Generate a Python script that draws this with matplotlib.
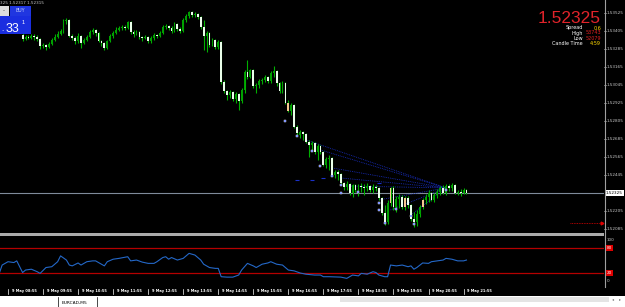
import matplotlib
matplotlib.use("Agg")
import numpy as np
import matplotlib.pyplot as plt
from matplotlib.patches import Rectangle
from matplotlib.lines import Line2D
from matplotlib.transforms import blended_transform_factory

W, H = 625, 307

# EURCAD M5, bar 0 = 9 May 08:55
first_bar = 5
opens = [
    1.53379, 1.53352, 1.53365, 1.53359, 1.53372, 1.53365, 1.53352, 1.53305, 1.53312, 1.53299,
    1.53319, 1.53345, 1.53365, 1.53385, 1.53405, 1.53472, 1.53479, 1.53372, 1.53359, 1.53339,
    1.53372, 1.53325, 1.53345, 1.53365, 1.53399, 1.53412, 1.53392, 1.53339, 1.53325, 1.53292,
    1.53339, 1.53372, 1.53392, 1.53412, 1.53425, 1.53432, 1.53425, 1.53465, 1.53399, 1.53385,
    1.53399, 1.53365, 1.53359, 1.53365, 1.53339, 1.53359, 1.53379, 1.53372, 1.53392, 1.53432,
    1.53439, 1.53425, 1.53405, 1.53452, 1.53419, 1.53405, 1.53479, 1.53505, 1.53532, 1.53512,
    1.53519, 1.53499, 1.53432, 1.53372, 1.53392, 1.53312, 1.53345, 1.53299, 1.53332, 1.53065,
    1.53005, 1.52979, 1.52999, 1.52952, 1.52985, 1.52939, 1.53012, 1.53132, 1.53099, 1.53145,
    1.53039, 1.53045, 1.53072, 1.53079, 1.53099, 1.53072, 1.53125, 1.53139, 1.53059, 1.53005,
    1.53059, 1.52925, 1.52872, 1.52912, 1.52765, 1.52712, 1.52732, 1.52719, 1.52665, 1.52645,
    1.52659, 1.52599, 1.52639, 1.52599, 1.52512, 1.52552, 1.52559, 1.52445, 1.52465, 1.52452,
    1.52392, 1.52365, 1.52385, 1.52325, 1.52379, 1.52345, 1.52372, 1.52365, 1.52359, 1.52372,
    1.52345, 1.52365, 1.52359, 1.52292, 1.52192, 1.52132, 1.52259, 1.52359, 1.52232, 1.52285,
    1.52299, 1.52232, 1.52292, 1.52245, 1.52152, 1.52132, 1.52185, 1.52232, 1.52279, 1.52299,
    1.52325, 1.52279, 1.52312, 1.52332, 1.52359, 1.52325, 1.52372, 1.52359, 1.52379, 1.52325,
    1.52332, 1.52325, 1.52345,
]
closes = [
    1.53352, 1.53365, 1.53359, 1.53372, 1.53365, 1.53352, 1.53305, 1.53312, 1.53299, 1.53319,
    1.53345, 1.53365, 1.53385, 1.53405, 1.53472, 1.53479, 1.53372, 1.53359, 1.53339, 1.53372,
    1.53325, 1.53345, 1.53365, 1.53399, 1.53412, 1.53392, 1.53339, 1.53325, 1.53292, 1.53339,
    1.53372, 1.53392, 1.53412, 1.53425, 1.53432, 1.53425, 1.53465, 1.53399, 1.53385, 1.53399,
    1.53365, 1.53359, 1.53365, 1.53339, 1.53359, 1.53379, 1.53372, 1.53392, 1.53432, 1.53439,
    1.53425, 1.53405, 1.53452, 1.53419, 1.53405, 1.53479, 1.53505, 1.53532, 1.53512, 1.53519,
    1.53499, 1.53432, 1.53372, 1.53392, 1.53312, 1.53345, 1.53299, 1.53332, 1.53065, 1.53005,
    1.52979, 1.52999, 1.52952, 1.52985, 1.52939, 1.53012, 1.53132, 1.53099, 1.53145, 1.53039,
    1.53045, 1.53072, 1.53079, 1.53099, 1.53072, 1.53125, 1.53139, 1.53059, 1.53005, 1.53059,
    1.52925, 1.52872, 1.52912, 1.52765, 1.52725, 1.52732, 1.52719, 1.52665, 1.52645, 1.52659,
    1.52599, 1.52639, 1.52599, 1.52512, 1.52552, 1.52559, 1.52445, 1.52465, 1.52452, 1.52392,
    1.52365, 1.52385, 1.52325, 1.52379, 1.52345, 1.52372, 1.52365, 1.52359, 1.52372, 1.52345,
    1.52365, 1.52359, 1.52292, 1.52192, 1.52132, 1.52259, 1.52359, 1.52232, 1.52285, 1.52299,
    1.52232, 1.52292, 1.52245, 1.52152, 1.52132, 1.52185, 1.52232, 1.52279, 1.52299, 1.52325,
    1.52279, 1.52312, 1.52332, 1.52359, 1.52325, 1.52372, 1.52359, 1.52379, 1.52325, 1.52332,
    1.52325, 1.52345, 1.52325,
]
highs = [
    1.53392, 1.53379, 1.53379, 1.53385, 1.53385, 1.53379, 1.53359, 1.53325, 1.53319, 1.53332,
    1.53359, 1.53385, 1.53405, 1.53419, 1.53485, 1.53492, 1.53485, 1.53385, 1.53372, 1.53392,
    1.53379, 1.53359, 1.53379, 1.53412, 1.53425, 1.53419, 1.53399, 1.53345, 1.53332, 1.53345,
    1.53385, 1.53405, 1.53432, 1.53439, 1.53445, 1.53445, 1.53472, 1.53472, 1.53412, 1.53412,
    1.53405, 1.53372, 1.53379, 1.53372, 1.53372, 1.53392, 1.53385, 1.53405, 1.53445, 1.53452,
    1.53445, 1.53439, 1.53465, 1.53459, 1.53432, 1.53492, 1.53519, 1.53539, 1.53539, 1.53532,
    1.53525, 1.53505, 1.53479, 1.53405, 1.53399, 1.53359, 1.53352, 1.53345, 1.53339, 1.53079,
    1.53012, 1.53012, 1.53005, 1.52999, 1.52992, 1.53025, 1.53145, 1.53212, 1.53152, 1.53152,
    1.53059, 1.53085, 1.53092, 1.53112, 1.53105, 1.53139, 1.53172, 1.53145, 1.53065, 1.53072,
    1.53065, 1.52945, 1.52925, 1.52919, 1.52779, 1.52745, 1.52739, 1.52725, 1.52679, 1.52672,
    1.52665, 1.52652, 1.52645, 1.52605, 1.52565, 1.52579, 1.52565, 1.52479, 1.52479, 1.52459,
    1.52399, 1.52405, 1.52392, 1.52385, 1.52385, 1.52385, 1.52392, 1.52385, 1.52392, 1.52379,
    1.52385, 1.52379, 1.52365, 1.52299, 1.52245, 1.52279, 1.52365, 1.52372, 1.52305, 1.52319,
    1.52312, 1.52305, 1.52305, 1.52252, 1.52199, 1.52212, 1.52245, 1.52292, 1.52319, 1.52345,
    1.52332, 1.52325, 1.52352, 1.52372, 1.52379, 1.52385, 1.52385, 1.52392, 1.52385, 1.52345,
    1.52352, 1.52359, 1.52352,
]
lows = [
    1.53339, 1.53345, 1.53352, 1.53352, 1.53345, 1.53339, 1.53285, 1.53292, 1.53279, 1.53292,
    1.53312, 1.53339, 1.53359, 1.53379, 1.53392, 1.53452, 1.53365, 1.53345, 1.53319, 1.53325,
    1.53292, 1.53319, 1.53339, 1.53359, 1.53385, 1.53372, 1.53332, 1.53305, 1.53279, 1.53285,
    1.53332, 1.53359, 1.53385, 1.53405, 1.53412, 1.53412, 1.53419, 1.53385, 1.53365, 1.53379,
    1.53352, 1.53339, 1.53352, 1.53325, 1.53325, 1.53345, 1.53359, 1.53365, 1.53385, 1.53419,
    1.53412, 1.53392, 1.53399, 1.53405, 1.53392, 1.53399, 1.53465, 1.53492, 1.53499, 1.53499,
    1.53485, 1.53419, 1.53279, 1.53265, 1.53299, 1.53305, 1.53285, 1.53285, 1.53052, 1.52992,
    1.52945, 1.52959, 1.52939, 1.52925, 1.52879, 1.52925, 1.52992, 1.53085, 1.53092, 1.53025,
    1.52992, 1.53025, 1.53052, 1.53065, 1.53059, 1.53059, 1.53099, 1.53039, 1.52992, 1.52992,
    1.52919, 1.52865, 1.52845, 1.52759, 1.52712, 1.52692, 1.52679, 1.52659, 1.52565, 1.52612,
    1.52585, 1.52545, 1.52585, 1.52505, 1.52492, 1.52479, 1.52439, 1.52425, 1.52412, 1.52379,
    1.52345, 1.52345, 1.52312, 1.52299, 1.52332, 1.52305, 1.52332, 1.52312, 1.52339, 1.52332,
    1.52325, 1.52339, 1.52279, 1.52179, 1.52112, 1.52119, 1.52239, 1.52212, 1.52199, 1.52225,
    1.52219, 1.52212, 1.52225, 1.52139, 1.52099, 1.52105, 1.52165, 1.52219, 1.52252, 1.52265,
    1.52272, 1.52265, 1.52292, 1.52312, 1.52319, 1.52312, 1.52339, 1.52339, 1.52319, 1.52312,
    1.52305, 1.52319, 1.52319,
]
peach_bars = [96, 131, 136, 142]

bid = 1.52325
alert_level = 1.52127

# arrows of the signal indicator
signal_bars = [95, 99, 104, 107, 111, 114, 114, 120, 127, 127, 129, 133, 138, 139, 150]
signal_prices = [1.52805, 1.52705, 1.52605, 1.52505, 1.52439, 1.52379, 1.52325, 1.52332,
                 1.52259, 1.52212, 1.52125, 1.52219, 1.52172, 1.52119, 1.52345]

# dotted trend lines of the same indicator
fan_bars = [102, 107, 111, 114, 115, 127, 131, 138]
fan_prices = [1.52679, 1.52612, 1.52492, 1.52425, 1.52372, 1.52279, 1.52212, 1.52179]
fan_end_bar = 150
fan_end_price = 1.52359
dash_bars = [99, 104, 108, 127]
dash_prices = [1.52412, 1.52412, 1.52425, 1.52392]

# oscillator sub window
ind_bars = [-3, -2, 0, 2, 3, 4, 5, 6, 8, 10, 11, 12, 13, 15, 17, 18, 20, 21, 22, 24, 25, 27, 29,
            30, 32, 33, 34, 36, 38, 41, 42, 44, 46, 48, 50, 51, 53, 54, 55, 56, 58, 60, 61, 62,
            64, 66, 67, 69, 71, 72, 73, 75, 77, 79, 80, 82, 84, 85, 87, 89, 90, 92, 94, 96, 98,
            100, 102, 105, 107, 108, 110, 114, 116, 117, 118, 120, 121, 123, 125, 126, 127, 129,
            130, 131, 133, 135, 137, 138, 139, 140, 142, 144, 145, 147, 149, 150, 152, 153, 154,
            156, 157]
ind_vals = [19, 39, 47, 45, 49, 35, 21, 27, 29, 23, 19, 26, 33, 35, 47, 61, 51, 39, 37, 44, 39, 47,
            49, 49, 41, 37, 47, 53, 55, 59, 49, 51, 46, 43, 43, 47, 57, 59, 53, 57, 51, 55, 61, 67,
            63, 51, 41, 33, 31, 31, 11, 10, 10, 15, 27, 43, 37, 33, 41, 44, 47, 41, 39, 27, 25,
            20, 17, 15, 15, 11, 11, 10, 7, 11, 15, 13, 19, 17, 23, 21, 15, 11,
            11, 39, 37, 39, 35, 37, 29, 33, 44, 43, 47, 49, 51, 55, 53, 51, 49,
            49, 51]
ind_levels = [80, 20]

price_ticks = [1.53525, 1.53405, 1.53285, 1.53165, 1.53045, 1.52925, 1.52805, 1.52685,
               1.52565, 1.52445, 1.52205, 1.52085]
time_bars = list(range(0, 157, 12))
time_labels = ["9 May %02d:55" % h for h in range(8, 22)]

info_labels = ["Spread", "High", "Low", "Candle Time"]
info_values = ["0.6", "53743", "52079", "4:59"]
info_colors = ["#ffd800", "#e02020", "#e02020", "#ffd800"]


def box(x0, y0, x1, y1):
    return [x0 / W, 1 - y1 / H, (x1 - x0) / W, (y1 - y0) / H]


def prect(x0, y0, x1, y1, **kw):
    fig.add_artist(Rectangle((x0 / W, 1 - y1 / H), (x1 - x0) / W, (y1 - y0) / H,
                             transform=fig.transFigure, lw=0, **kw))


def fy(y):
    return 1 - y / H


fig = plt.figure(figsize=(W / 100, H / 100), dpi=100, facecolor="black")

xlim = (-2.74, 204.1)
ax = fig.add_axes(box(0, 0, 604, 233))
ax.set_xlim(*xlim)
ax.set_ylim(1.520583, 1.536117)
ax.axis("off")

bars = np.arange(first_bar, first_bar + len(closes))
o, c = np.array(opens), np.array(closes)
h, l = np.array(highs), np.array(lows)
body_col = np.where(c > o, "#00a000", "#eaffea")
for b in peach_bars:
    body_col[b - first_bar] = "#f6c890"

ax.axhline(bid, color="#7f8b9a", lw=0.8, zorder=1)
for b0, p0 in zip(fan_bars, fan_prices):
    ax.plot([b0, fan_end_bar], [p0, fan_end_price], color="#1a30c8", lw=0.6,
            ls=(0, (1, 1.2)), zorder=1.5)
ax.scatter(dash_bars, dash_prices, marker="_", s=6, color="#1a30c8", lw=0.8, zorder=1.5)
ax.vlines(bars, l, h, color="#00b000", lw=0.8, zorder=2)
ax.bar(bars, np.maximum(np.abs(c - o), 0.00002), bottom=np.minimum(o, c), width=0.62,
       color=body_col, lw=0, zorder=3)
ax.scatter(signal_bars, signal_prices, marker="s", s=4, c="#3c5cff", edgecolors="white",
           linewidths=0.3, zorder=5)
ax.hlines(alert_level, 192.5, 203.3, colors="#e00000", lw=0.6, linestyles=(0, (1, 1)))
ax.plot(203.5, alert_level, marker=">", ms=2, color="#e00000")

# price scale
trans = blended_transform_factory(fig.transFigure, ax.transData)
for p in price_ticks:
    ax.text(607 / W, p, "%.5f" % p, transform=trans, color="#c8c8c8", fontsize=3,
            va="center", ha="left")
    ax.plot([604 / W, 606 / W], [p, p], transform=trans, color="#a0a0a0", lw=0.5, clip_on=False)
ax.text(606 / W, bid, "%.5f" % bid, transform=trans, color="black", fontsize=3, va="center",
        ha="left", bbox=dict(facecolor="white", edgecolor="none", pad=0.8))

# oscillator
ax2 = fig.add_axes(box(0, 237, 604, 284))
ax2.set_xlim(*xlim)
ax2.set_ylim(-6.5, 106.3)
ax2.axis("off")
for lv in ind_levels:
    ax2.axhline(lv, color="#b40000", lw=0.9)
ax2.plot(ind_bars, ind_vals, color="#2468c8", lw=0.8)
trans2 = blended_transform_factory(fig.transFigure, ax2.transData)
for v in (100, 0):
    ax2.text(607 / W, v, str(v), transform=trans2, color="#c8c8c8", fontsize=3, va="center")
for lv in ind_levels:
    ax2.text(606.5 / W, lv, str(lv), transform=trans2, color="white", fontsize=3, va="center",
             bbox=dict(facecolor="#e00000", edgecolor="none", pad=0.6))

# time scale
trans3 = blended_transform_factory(ax2.transData, fig.transFigure)
for b, t in zip(time_bars, time_labels):
    ax2.text(b + 1.3, fy(291), t, transform=trans3, color="white", fontsize=2.6,
             va="center", ha="left", fontweight="bold")
    ax2.plot([b, b], [fy(288.5), fy(293.5)], transform=trans3, color="white", lw=0.5,
             clip_on=False)

# window frames
prect(0, 233, 604, 236, facecolor="#aaaaaa")
fig.add_artist(Line2D([604.5 / W] * 2, [1, fy(287)], transform=fig.transFigure,
                      color="#a0a0a0", lw=0.8))
prect(0, 296, 625, 307, facecolor="white")
prect(340, 297, 609, 302, facecolor="#e4e4e4")
fig.text(612 / W, fy(299.5), "\u25c2", fontsize=3, color="#777777", va="center")
fig.text(619 / W, fy(299.5), "\u25b8", fontsize=3, color="#777777", va="center")
for x in (57.5, 96.5):
    fig.add_artist(Line2D([x / W] * 2, [fy(297), fy(307)], transform=fig.transFigure,
                          color="black", lw=0.5))
fig.text(62 / W, fy(303.5), "EURCAD,M5", fontsize=3.2, color="black", va="center")

# header text
fig.text(0, fy(3), "325 1.52317 1.52315", color="#c8c8c8", fontsize=3, va="center")

# one click trading panel
prect(0, 6, 9, 16, facecolor="#dcdcdc")
fig.text(4 / W, fy(11), "-", fontsize=4, color="#303030", va="center", ha="center")
prect(10, 6, 31, 16, facecolor="#2036e0")
fig.text(20.5 / W, fy(11), "BUY", fontsize=3.4, color="#c8d4ff", va="center", ha="center")
prect(0, 16.5, 31, 34, facecolor="#1a2ee0")
fig.text(1 / W, fy(31), ".", fontsize=5, color="white", va="baseline")
fig.text(6 / W, fy(31.5), "33", fontsize=9, color="white", va="baseline",
         family="Liberation Sans")
fig.text(22 / W, fy(24.5), "1", fontsize=4, color="white", va="baseline",
         family="Liberation Sans")

# info block top right
fig.text(601 / W, fy(22.8), "%.5f" % bid, ha="right", va="baseline", color="#e0232a",
         fontsize=12.5, family="Liberation Sans")
for i, (lab, val, col) in enumerate(zip(info_labels, info_values, info_colors)):
    yy = [28.0, 33.0, 38.0, 43.2][i]
    fig.text(583 / W, fy(yy), lab, ha="right", va="center", color="white", fontsize=3.5)
    fig.text(601 / W, fy(yy), val, ha="right", va="center", color=col, fontsize=3.5)

fig.savefig("out.png", dpi=100, facecolor="black")
